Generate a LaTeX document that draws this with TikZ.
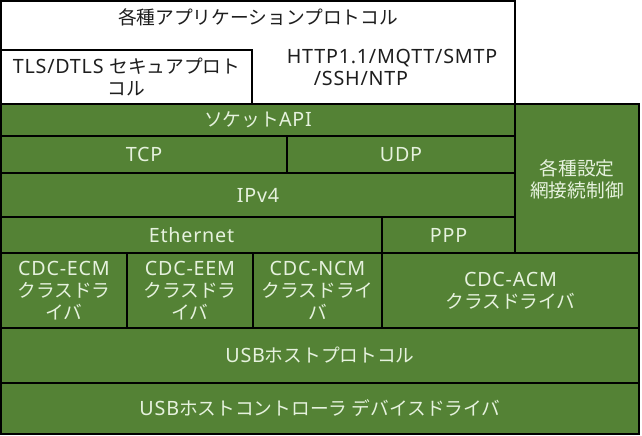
\documentclass[tikz,border=0pt]{standalone}
\usepackage{fontspec}
\setmainfont[LetterSpace=4]{Noto Sans}
\newfontfamily\jp[Scale=0.95]{Noto Sans CJK JP}
\definecolor{boxgreen}{RGB}{84,130,53}
\definecolor{paletext}{RGB}{230,242,222}
\definecolor{darktext}{RGB}{30,30,30}
\tikzset{
  layer/.style={draw=black, line width=2pt, anchor=north west, inner sep=0pt, outer sep=0pt},
  wbox/.style={layer, fill=white},
  gbox/.style={layer, fill=boxgreen},
  gtext/.style={text=paletext, align=center, font=\fontsize{19.7}{22}\selectfont, inner sep=0pt},
  btext/.style={text=darktext, align=center, font=\fontsize{19.7}{22}\selectfont, inner sep=0pt},
}
\begin{document}
\begin{tikzpicture}
\useasboundingbox (0,0) rectangle (642pt,-436pt);
% boxes
\node[wbox, minimum width=514pt, minimum height=103pt] (app) at (1pt,-1pt) {};
\node[wbox, minimum width=251pt, minimum height=54pt] (tls) at (1pt,-50pt) {};
\node[gbox, minimum width=514pt, minimum height=32pt] (sock) at (1pt,-104pt) {};
\node[gbox, minimum width=286pt, minimum height=37pt] (tcp) at (1pt,-136pt) {};
\node[gbox, minimum width=228pt, minimum height=37pt] (udp) at (287pt,-136pt) {};
\node[gbox, minimum width=514pt, minimum height=44pt] (ip) at (1pt,-173pt) {};
\node[gbox, minimum width=124pt, minimum height=149pt] (cfg) at (515pt,-104pt) {};
\node[gbox, minimum width=381pt, minimum height=36pt] (eth) at (1pt,-217pt) {};
\node[gbox, minimum width=133pt, minimum height=36pt] (ppp) at (382pt,-217pt) {};
\node[gbox, minimum width=126pt, minimum height=75pt] (ecm) at (1pt,-253pt) {};
\node[gbox, minimum width=126pt, minimum height=75pt] (eem) at (127pt,-253pt) {};
\node[gbox, minimum width=129pt, minimum height=75pt] (ncm) at (253pt,-253pt) {};
\node[gbox, minimum width=257pt, minimum height=75pt] (acm) at (382pt,-253pt) {};
\node[gbox, minimum width=638pt, minimum height=55pt] (usbp) at (1pt,-328pt) {};
\node[gbox, minimum width=638pt, minimum height=51pt] (usbc) at (1pt,-383pt) {};
% texts
\node[btext] (tapp) at (258pt,-17pt) {{\jp 各種アプリケーションプロトコル}};
\node[btext] (ttls) at (tls.center) {TLS/DTLS {\jp セキュアプロト}\\{\jp コル}};
\node[btext] (thttp) at (392pt,-67pt) {HTTP1.1/MQTT/SMTP\\/SSH/NTP\hspace*{62pt}};
\node[gtext] (tsock) at (sock.center) {{\jp ソケット}API};
\node[gtext] (ttcp) at (tcp.center) {TCP};
\node[gtext] (tudp) at (udp.center) {UDP};
\node[gtext] (tip) at (ip.center) {IPv4};
\node[gtext] (tcfg) at ([yshift=-1pt]cfg.center) {{\jp 各種設定}\\{\jp 網接続制御}};
\node[gtext] (teth) at (eth.center) {Ethernet};
\node[gtext] (tppp) at (ppp.center) {PPP};
\node[gtext] (tecm) at (ecm.center) {CDC-ECM\\{\jp クラスドラ}\\{\jp イバ}};
\node[gtext] (teem) at (eem.center) {CDC-EEM\\{\jp クラスドラ}\\{\jp イバ}};
\node[gtext] (tncm) at (ncm.center) {CDC-NCM\\{\jp クラスドライ}\\{\jp バ}};
\node[gtext] (tacm) at (acm.center) {CDC-ACM\\{\jp クラスドライバ}};
\node[gtext] (tusbp) at (usbp.center) {USB{\jp ホストプロトコル}};
\node[gtext] (tusbc) at (usbc.center) {USB{\jp ホストコントローラ デバイスドライバ}};
\end{tikzpicture}
\end{document}
